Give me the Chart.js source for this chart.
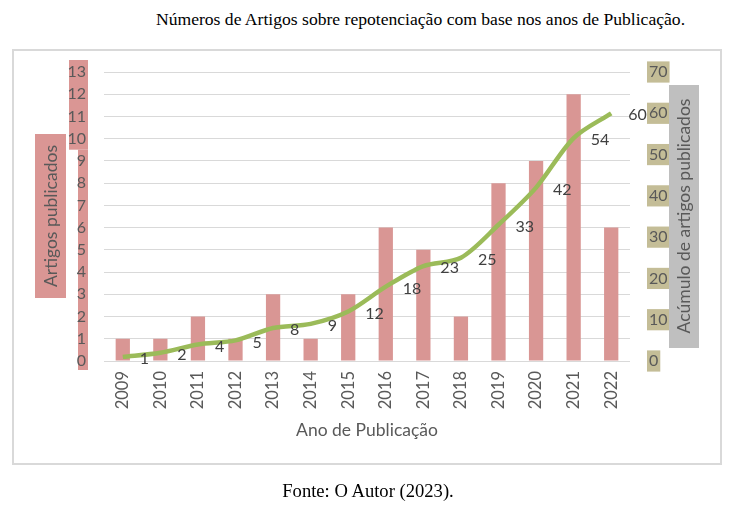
<!DOCTYPE html>
<html>
<head>
<meta charset="utf-8">
<script src="https://cdn.jsdelivr.net/npm/chart.js@4"></script>
<style>
  body { margin: 0; background: #fff; }
  #page { position: relative; width: 731px; height: 508px; overflow: hidden; }
  #caption {
    position: absolute; left: 110px; top: 9px; width: 621px;
    text-align: center; font: 17.6px/20px "Liberation Serif", "Times New Roman", serif; color: #000;
  }
  #source {
    position: absolute; left: 0; top: 481px; width: 736px;
    text-align: center; font: 18.6px/20px "Liberation Serif", "Times New Roman", serif; color: #000;
  }
  #frame {
    position: absolute; left: 12px; top: 49px; width: 706px; height: 412px;
    border: 2px solid #d9d9d9;
  }
  #wrap { position: absolute; left: 0; top: 0; width: 731px; height: 508px; }
</style>
</head>
<body>
<div id="page">
  <div id="caption">Números de Artigos sobre repotenciação com base nos anos de Publicação.</div>
  <div id="frame"></div>
  <div id="wrap"><canvas id="chart"></canvas></div>
  <div id="source">Fonte: O Autor (2023).</div>
</div>
<script>
// dados
const anos = ['2009', '2010', '2011', '2012', '2013', '2014', '2015', '2016', '2017', '2018', '2019', '2020', '2021', '2022'];
const artigos = [1, 1, 2, 1, 3, 1, 3, 6, 5, 2, 8, 9, 12, 6];
const acumulado = [1, 2, 4, 5, 8, 9, 12, 18, 23, 25, 33, 42, 54, 60];
const ticksEsquerda = [0, 13, 1];   // min, max, passo
const ticksDireita = [0, 70, 10];

const cinza = '#595959';
const fonte = 'Lato, "Open Sans", sans-serif';

// fundos coloridos e títulos dos eixos (como no original do Word)
const enfeites = {
  id: 'enfeites',
  beforeDraw(chart) {
    const c = chart.ctx;
    const y = chart.scales.y;
    const a = chart.chartArea;
    c.save();
    c.fillStyle = '#da9694';
    // faixa rosa atrás dos números do eixo esquerdo
    c.fillRect(a.left - 35, y.getPixelForValue(13) - 12, 19, y.getPixelForValue(10) - y.getPixelForValue(13) + 23);
    c.fillRect(a.left - 26, y.getPixelForValue(10) + 11, 10, y.getPixelForValue(0) - y.getPixelForValue(10) - 2);
    c.restore();
  },
  afterDraw(chart) {
    const c = chart.ctx;
    const a = chart.chartArea;
    c.save();
    c.font = '17.5px ' + fonte;
    c.textAlign = 'center';
    c.textBaseline = 'middle';

    // título do eixo esquerdo
    c.fillStyle = '#da9694';
    c.fillRect(35, 134, 31, 164);
    c.save();
    c.translate(51, 216);
    c.rotate(-Math.PI / 2);
    c.fillStyle = cinza;
    c.fillText('Artigos publicados', 0, 0);
    c.restore();

    // título do eixo direito
    c.fillStyle = '#bfbfbf';
    c.fillRect(669, 85, 30, 263);
    c.save();
    c.translate(684, 216);
    c.rotate(-Math.PI / 2);
    c.fillStyle = cinza;
    c.fillText('Acúmulo de artigos publicados', 0, 0);
    c.restore();

    // título do eixo x
    c.fillStyle = cinza;
    c.fillText('Ano de Publicação', (a.left + a.right) / 2, 430);
    c.restore();
  },
  afterDatasetsDraw(chart) {
    // rótulos da linha, à direita de cada ponto
    const c = chart.ctx;
    const meta = chart.getDatasetMeta(1);
    c.save();
    c.font = '16px ' + fonte;
    c.fillStyle = '#404040';
    c.textAlign = 'left';
    c.textBaseline = 'middle';
    meta.data.forEach((p, i) => {
      c.fillText(String(acumulado[i]), p.x + 17, p.y + 2);
    });
    c.restore();
  }
};

new Chart(document.getElementById('chart'), {
  data: {
    labels: anos,
    datasets: [
      {
        type: 'bar',
        label: 'Artigos publicados',
        data: artigos,
        backgroundColor: '#d99694',
        barPercentage: 0.38,
        categoryPercentage: 1,
        yAxisID: 'y',
        order: 2
      },
      {
        type: 'line',
        label: 'Acúmulo de artigos publicados',
        data: acumulado,
        borderColor: '#9bbb59',
        borderWidth: 4.5,
        pointRadius: 0,
        tension: 0.3,
        fill: false,
        yAxisID: 'y1',
        order: 1
      }
    ]
  },
  options: {
    responsive: true,
    maintainAspectRatio: false,
    animation: false,
    layout: { padding: { top: 72, left: 0, right: 0, bottom: 0 } },
    plugins: {
      legend: { display: false },
      tooltip: { enabled: false }
    },
    scales: {
      x: {
        grid: { display: false, drawTicks: false },
        border: { display: false },
        ticks: {
          color: cinza, font: { family: fonte, size: 16.5 },
          minRotation: 90, maxRotation: 90, padding: 10, autoSkip: false
        },
        afterFit(s) { s.height = 147; }
      },
      y: {
        position: 'left',
        min: ticksEsquerda[0], max: ticksEsquerda[1],
        grid: { color: '#d9d9d9', lineWidth: 1, drawTicks: false },
        border: { display: false },
        ticks: { stepSize: ticksEsquerda[2], color: cinza, font: { family: fonte, size: 16 }, padding: 18 },
        afterFit(s) { s.width = 104; }
      },
      y1: {
        position: 'right',
        min: ticksDireita[0], max: ticksDireita[1],
        grid: { display: false, drawTicks: false },
        border: { display: false },
        ticks: {
          stepSize: ticksDireita[2], color: cinza, font: { family: fonte, size: 16 }, padding: 19,
          showLabelBackdrop: true, backdropColor: '#c4bd97', backdropPadding: { left: 2, right: 2, top: 1, bottom: 1 }
        },
        afterFit(s) { s.width = 101; }
      }
    }
  },
  plugins: [enfeites]
});
</script>
</body>
</html>
